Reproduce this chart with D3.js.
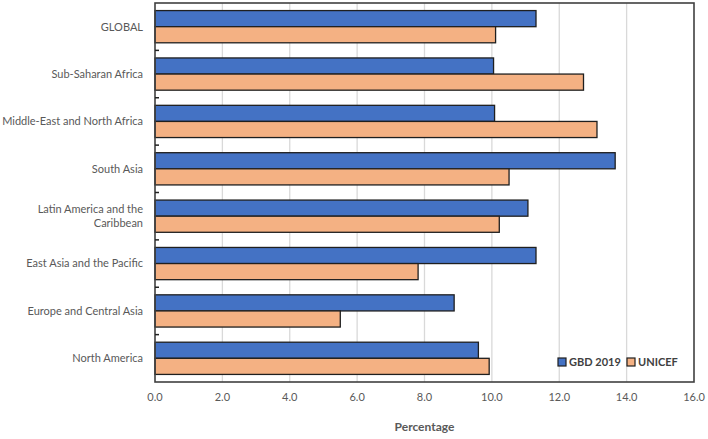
<!DOCTYPE html>
<html><head><meta charset="utf-8">
<script src="https://cdn.jsdelivr.net/npm/d3@7"></script>
<style>body{margin:0;background:#fff}svg{display:block}text{font-family:Lato,"Open Sans",sans-serif}</style>
</head><body><svg id="c" width="708" height="439"></svg>
<script>
const categories = ["GLOBAL","Sub-Saharan Africa","Middle-East and North Africa","South Asia","Latin America and the Caribbean","East Asia and the Pacific","Europe and Central Asia","North America"];
const labelLines = [["GLOBAL"],["Sub-Saharan Africa"],["Middle-East and North Africa"],["South Asia"],["Latin America and the","Caribbean"],["East Asia and the Pacific"],["Europe and Central Asia"],["North America"]];
const seriesNames = ["GBD 2019","UNICEF"];
const gbd2019 = [11.31,10.05,10.08,13.66,11.07,11.31,8.88,9.60];
const unicef = [10.11,12.72,13.12,10.51,10.22,7.81,5.50,9.92];
const xTicks = [0,2,4,6,8,10,12,14,16];
const colors = ["#4472C4","#F4B183"];

const svg = d3.select("#c");
const L=155, R=694, T=3, B=382;
const x = d3.scaleLinear().domain([0,16]).range([L,R]);
const y = d3.scaleBand().domain(categories).range([T,B]).paddingInner(0).paddingOuter(0);
const inner = d3.scaleBand().domain(seriesNames).range([0,y.bandwidth()]).paddingInner(0).paddingOuter(0.47);

// gridlines
svg.append("g").selectAll("line").data(xTicks.filter(d=>d>0&&d<16)).join("line")
  .attr("x1",d=>x(d)).attr("x2",d=>x(d)).attr("y1",T).attr("y2",B)
  .attr("stroke","#d9d9d9").attr("stroke-width",1.3);

// bars
const data = categories.map((c,i)=>({c, vals:[gbd2019[i],unicef[i]]}));
const g = svg.append("g");
data.forEach(d=>{
  d.vals.forEach((v,j)=>{
    g.append("rect").attr("x",x(0)).attr("y",y(d.c)+inner(seriesNames[j]))
     .attr("width",x(v)-x(0)).attr("height",inner.bandwidth())
     .attr("fill",colors[j]).attr("stroke","#1f1f1f").attr("stroke-width",1.3);
  });
});

// frame
svg.append("rect").attr("x",L).attr("y",T).attr("width",R-L).attr("height",B-T)
  .attr("fill","none").attr("stroke","#404040").attr("stroke-width",1.6);

// category tick marks (inside)
svg.append("g").selectAll("line").data(categories.slice(1)).join("line")
  .attr("x1",L).attr("x2",L+4).attr("y1",d=>y(d)).attr("y2",d=>y(d))
  .attr("stroke","#222").attr("stroke-width",1.5);

// category labels
labelLines.forEach((lines,i)=>{
  const cy = y(categories[i])+y.bandwidth()/2;
  const t = svg.append("text").attr("text-anchor","end").attr("fill","#595959")
    .attr("font-size",11);
  const lh = 14;
  lines.forEach((ln,k)=>{
    t.append("tspan").attr("x",143).attr("y",cy - (lines.length-1)*lh/2 + k*lh).attr("dy","0.35em").text(ln);
  });
});

// x axis labels
svg.append("g").selectAll("text").data(xTicks).join("text")
  .attr("x",d=>x(d)).attr("y",397).attr("dy","0.35em").attr("text-anchor","middle")
  .attr("fill","#595959").attr("font-size",11).text(d=>d.toFixed(1));

svg.append("text").attr("x",(L+R)/2).attr("y",431).attr("text-anchor","middle")
  .attr("fill","#595959").attr("font-size",12).attr("font-weight","bold").text("Percentage");

// legend
const lg = svg.append("g");
const legX=[558,627];
seriesNames.forEach((s,j)=>{
  lg.append("rect").attr("x",legX[j]).attr("y",358).attr("width",8).attr("height",8)
    .attr("fill",colors[j]).attr("stroke","#1f1f1f").attr("stroke-width",1.2);
  lg.append("text").attr("x",legX[j]+11).attr("y",362).attr("dy","0.35em")
    .attr("fill","#404040").attr("font-size",11).attr("font-weight","bold").text(s);
});
</script></body></html>
